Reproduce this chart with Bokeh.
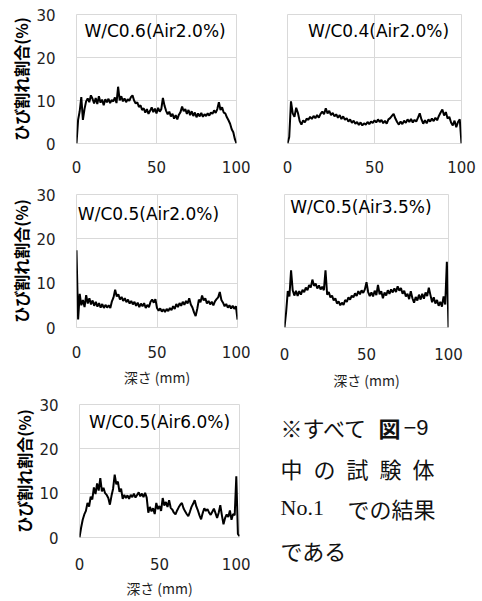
from bokeh.plotting import figure
from bokeh.layouts import column, row
from bokeh.models import Range1d, FixedTicker, Label, Title
from bokeh.embed import file_html
from bokeh.resources import INLINE

# ---------------- data ----------------
depth = list(range(101))  # mm

wc06_air20 = [0.0, 5.5, 7.5, 10.8, 5.5, 8.0, 9.8, 10.5, 9.6, 11.2,
              10.4, 9.3, 10.6, 9.2, 11.0, 9.5, 10.2, 8.9, 10.3, 9.6,
              10.4, 9.4, 10.1, 9.8, 10.7, 9.4, 13.2, 10.0, 11.0, 9.8,
              10.5, 9.6, 10.3, 9.9, 10.8, 11.2, 10.0, 9.3, 9.6, 8.5,
              8.9, 7.8, 8.2, 7.2, 8.0, 6.9, 7.6, 8.4, 7.3, 8.1,
              7.0, 8.3, 7.4, 8.0, 10.6, 8.8, 7.6, 6.8, 7.4, 6.3,
              6.9, 5.8, 6.6, 5.6, 6.7, 7.3, 8.6, 7.5, 8.0, 6.9,
              7.8, 6.6, 7.5, 6.4, 7.2, 6.1, 7.0, 6.3, 7.1, 6.2,
              6.8, 6.4, 7.0, 6.5, 7.2, 6.9, 7.7, 7.1, 8.0, 9.6,
              7.8, 8.4, 7.2, 7.0, 6.1, 5.4, 4.6, 3.3, 2.6, 1.0, 0.0]

wc04_air20 = [0.0, 1.5, 9.8, 7.0, 6.2, 8.3, 7.1, 5.2, 4.4, 5.4,
              4.9, 5.8, 5.5, 6.2, 5.7, 6.4, 5.9, 6.6, 6.0, 6.9,
              7.4, 6.8, 8.2, 7.0, 7.6, 6.6, 7.1, 6.3, 6.8, 6.0,
              6.6, 5.7, 6.3, 5.5, 5.9, 5.1, 5.6, 4.8, 5.3, 4.6,
              5.0, 4.3, 4.9, 4.2, 4.7, 4.4, 5.0, 4.5, 5.1, 4.8,
              5.4, 4.9, 5.6, 5.0, 5.5, 4.7, 5.3, 4.6, 5.6, 5.9,
              6.4, 6.9, 5.8, 5.0, 4.4, 5.1, 4.5, 5.3, 4.8, 5.6,
              5.0, 5.7, 4.9, 5.5, 5.1, 6.0, 7.0, 5.6, 4.6, 5.4,
              4.7, 5.6, 5.1, 5.8, 5.2, 6.0, 5.4, 6.4, 7.2, 7.9,
              6.5, 7.3, 5.8, 6.2, 4.9, 4.2, 5.3, 3.8, 5.0, 5.6, 0.0]

wc05_air20 = [17.4, 1.8, 7.6, 5.0, 6.2, 4.6, 7.3, 5.4, 6.6, 5.2,
              6.1, 4.9, 5.8, 4.7, 5.5, 4.5, 5.3, 4.4, 5.1, 4.5,
              5.0, 4.4, 5.9, 6.8, 8.5, 7.0, 7.5, 6.3, 6.9, 6.0,
              6.6, 5.7, 6.3, 5.4, 6.0, 5.2, 5.8, 4.9, 5.6, 4.6,
              5.4, 4.8, 5.5, 4.4, 5.1, 4.6, 5.8, 6.3, 5.6, 6.4,
              4.4, 3.8, 4.3, 3.6, 4.1, 3.5, 4.2, 3.7, 4.4, 3.9,
              4.8, 4.2, 5.3, 4.6, 5.5, 4.9, 5.8, 5.1, 6.0, 5.4,
              6.6, 5.2, 4.5, 3.4, 2.6, 4.2, 6.3, 5.7, 7.2, 6.1,
              6.6, 5.4, 6.0, 5.2, 5.8, 5.0, 5.9, 6.4, 6.8, 8.0,
              6.2, 5.6, 4.8, 5.3, 4.5, 5.0, 4.3, 4.9, 4.2, 4.8, 1.8]

wc05_air35 = [0.0, 3.5, 8.2, 7.0, 12.9, 8.4, 7.2, 8.3, 7.1, 8.2,
              7.4, 8.5, 8.0, 9.0, 8.4, 9.6, 9.0, 10.8, 9.4, 9.9,
              8.8, 9.5, 8.6, 9.2, 8.4, 12.9, 7.4, 8.0, 6.8, 7.2,
              6.1, 6.6, 5.4, 5.9, 5.0, 5.6, 5.1, 6.2, 5.8, 6.8,
              6.3, 7.2, 6.8, 7.7, 7.1, 8.2, 7.5, 8.4, 7.8, 8.6,
              10.2, 8.0, 7.1, 7.9, 7.0, 8.3, 7.3, 9.6, 7.5, 8.2,
              6.6, 7.9, 7.2, 8.4, 7.6, 8.6, 7.9, 8.8, 8.0, 9.3,
              8.3, 8.9, 7.6, 8.3, 7.0, 7.6, 6.4, 8.2, 6.6, 5.6,
              6.9, 6.1, 7.4, 6.3, 7.6, 6.5, 7.9, 7.1, 9.0, 7.3,
              5.7, 6.8, 5.4, 6.2, 4.9, 5.8, 4.7, 7.0, 5.2, 14.8, 0.0]

wc05_air60 = [0.0, 2.2, 4.0, 5.2, 6.0, 7.8, 7.0, 9.2, 8.6, 11.3,
              9.8, 12.2, 10.6, 13.4, 10.4, 11.2, 10.0, 9.6, 8.9, 7.4,
              9.4, 11.0, 14.2, 12.0, 12.6, 10.3, 11.0, 8.7, 9.6, 8.9,
              9.5, 8.7, 9.6, 9.1, 9.9, 9.0, 9.6, 10.2, 9.3, 9.9,
              9.1, 10.1, 9.0, 5.6, 6.9, 5.9, 6.6, 5.3, 7.8, 6.4,
              7.1, 6.0, 8.9, 7.2, 8.0, 6.9, 8.4, 6.7, 6.3, 5.6,
              5.2, 6.1, 6.8, 7.4, 7.8, 6.6, 5.9, 5.3, 4.8, 5.8,
              6.9, 7.6, 8.4, 7.0, 6.1, 5.0, 4.1, 5.5, 6.6, 6.0,
              6.4, 5.6, 5.1, 5.8, 6.5, 5.5, 4.4, 5.6, 7.3, 5.0,
              3.0, 4.4, 5.2, 4.6, 6.1, 4.0, 5.3, 5.0, 13.8, 0.8, 0.3]

titles = ["W/C0.6(Air2.0%)", "W/C0.4(Air2.0%)", "W/C0.5(Air2.0%)",
          "W/C0.5(Air3.5%)", "W/C0.5(Air6.0%)"]
y_title = "ひび割れ割合(%)"
x_title = "深さ (mm)"
x_ticks = [0, 50, 100]
y_ticks = [0, 10, 20, 30]
note_lines = ["※すべて", "図", "−9", "中\u2002の\u2002試\u2002験\u2002体", "No.1", "での結果", "である"]

# ---------------- style ----------------
GRID = "#d9d9d9"
TICK_FONT = "DejaVu Sans"
JP_FONT = "Noto Sans CJK JP"
LABEL_COLOR = "#1e1e1e"


def panel(values, title, title_pos, width, height, borders, show_y, show_xtitle,
          x_standoff, x_title_standoff=6):
    left, right, top, bottom = borders
    p = figure(width=width, height=height, output_backend="svg", toolbar_location=None,
               x_range=Range1d(0, 100), y_range=Range1d(0, 30),
               min_border_left=left, min_border_right=right,
               min_border_top=top, min_border_bottom=bottom)
    p.line(depth, values, line_color="black", line_width=2)

    p.outline_line_color = GRID
    p.outline_line_width = 1
    p.background_fill_color = "white"
    p.border_fill_color = "white"

    p.xaxis.ticker = FixedTicker(ticks=x_ticks)
    p.yaxis.ticker = FixedTicker(ticks=y_ticks)
    p.xgrid.ticker = FixedTicker(ticks=x_ticks)
    p.ygrid.ticker = FixedTicker(ticks=y_ticks)
    p.grid.grid_line_color = GRID
    p.grid.grid_line_width = 1

    for ax in (p.xaxis, p.yaxis):
        ax.axis_line_color = None
        ax.major_tick_line_color = None
        ax.minor_tick_line_color = None
        ax.major_label_text_font = TICK_FONT
        ax.major_label_text_font_size = "15px"
        ax.major_label_text_color = LABEL_COLOR

    p.xaxis.major_label_standoff = x_standoff
    if show_xtitle:
        p.xaxis.axis_label = x_title
        p.xaxis.axis_label_text_font = JP_FONT
        p.xaxis.axis_label_text_font_size = "14px"
        p.xaxis.axis_label_text_font_style = "normal"
        p.xaxis.axis_label_text_color = LABEL_COLOR
        p.xaxis.axis_label_standoff = x_title_standoff

    if show_y:
        p.yaxis.major_label_standoff = 15
        p.yaxis.axis_label = y_title
        p.yaxis.axis_label_text_font = JP_FONT
        p.yaxis.axis_label_text_font_size = "16px"
        p.yaxis.axis_label_text_font_style = "bold"
        p.yaxis.axis_label_text_color = "black"
        p.yaxis.axis_label_standoff = 0
    else:
        p.yaxis.visible = False

    p.add_layout(Label(x=title_pos[0], y=title_pos[1], text=title,
                       text_align="center", text_baseline="middle",
                       text_font=TICK_FONT, text_font_size="17px",
                       text_color="black"))
    return p


f1 = panel(wc06_air20, titles[0], (49.1, 26.2), 250, 178, (76, 14, 14, 35), True, False, 11)
f2 = panel(wc04_air20, titles[1], (52.3, 26.2), 231, 178, (37, 20, 14, 35), False, False, 11)
f3 = panel(wc05_air20, titles[2], (44.7, 25.6), 250, 214, (76, 13, 16, 63), True, True, 12, 6)
f4 = panel(wc05_air35, titles[3], (46.6, 27.1), 231, 214, (34, 33, 16, 65), False, True, 14, 7)
f5 = panel(wc05_air60, titles[4], (50.0, 26.0), 250, 208, (79, 11, 12, 62), True, True, 14, 5)

# note panel: same vertical borders as the neighbouring chart so that frames line up;
# data units = pixels measured from the frame's top-left corner (y downwards)
note = figure(width=231, height=208, output_backend="svg", toolbar_location=None,
              x_range=Range1d(0, 231), y_range=Range1d(134, 0),
              x_axis_location=None, y_axis_location=None,
              min_border_left=0, min_border_right=0,
              min_border_top=12, min_border_bottom=62)
note.outline_line_color = None
note.grid.visible = False

def note_label(x, y, text, font=JP_FONT, size="22px", style="normal"):
    note.add_layout(Label(x=x, y=y, text=text, text_baseline="middle",
                          text_align="left", text_font=font,
                          text_font_size=size, text_font_style=style,
                          text_color="#111111"))

note_label(30, 23, note_lines[0])
note_label(128, 23, note_lines[1], style="bold")
note_label(153, 23, note_lines[2], font="Liberation Sans", size="22px")
note_label(30, 64, note_lines[3])
note_label(30, 104, note_lines[4], font="Liberation Serif", size="22px")
note_label(97, 104, note_lines[5])
# last line sits below the frame: draw it as a title in the bottom border
note.add_layout(Title(text=note_lines[6], align="left", offset=30, standoff=-12,
                      text_font=JP_FONT, text_font_size="22px",
                      text_font_style="normal", text_color="#111111"), "below")

layout = column(row(f1, f2), row(f3, f4), row(f5, note))

with open("out.html", "w") as fh:
    fh.write(file_html(layout, INLINE))
